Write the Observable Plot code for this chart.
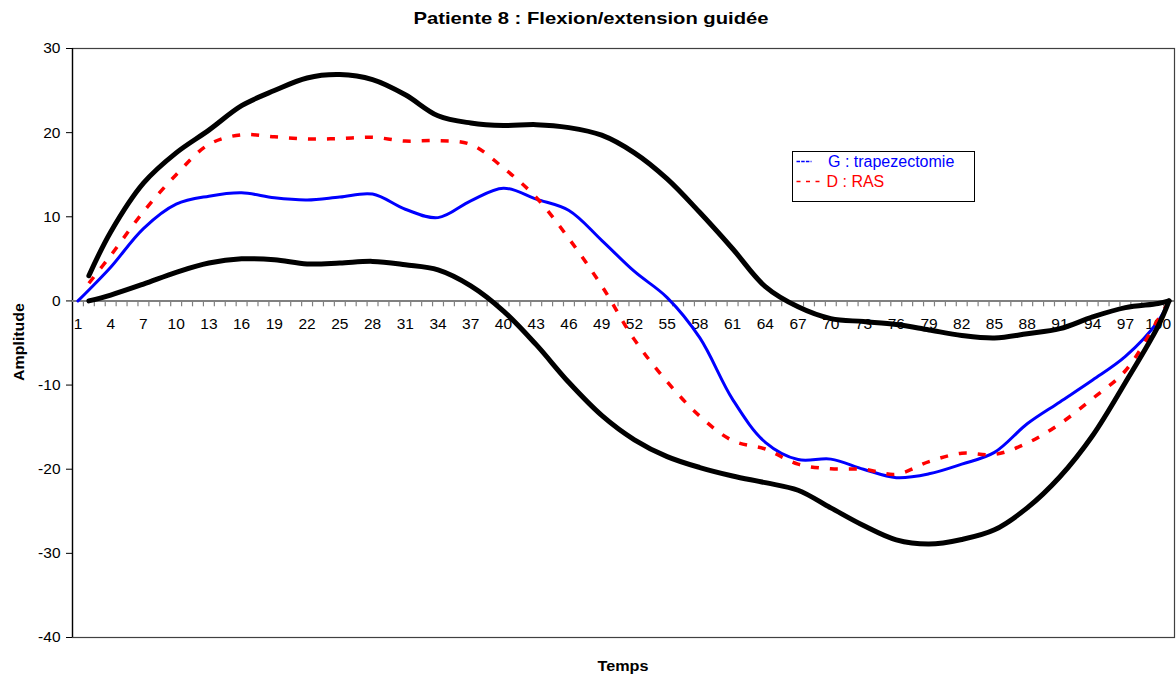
<!DOCTYPE html>
<html><head><meta charset="utf-8">
<script src="https://cdn.jsdelivr.net/npm/d3@7"></script>
<script src="https://cdn.jsdelivr.net/npm/@observablehq/plot@0.6"></script>
<style>
body{margin:0;background:#fff;font-family:"Liberation Sans",Arial,sans-serif;}
#wrap{position:relative;width:1176px;height:680px;overflow:hidden;}
#wrap > svg{position:absolute;left:0;top:0;}
</style></head><body><div id="wrap"></div>
<script>
// Temps (category index) sampled along the curves
const temps = [1,2,4,7,10,13,16,19,22,25,28,31,34,37,40,43,46,49,52,55,58,61,64,67,70,73,76,79,82,85,88,91,94,97,100,101];
// G : trapezectomie (blue)
const gTrap = [0,1.3,4.0,8.6,11.5,12.45,12.85,12.25,12.0,12.35,12.7,10.9,9.9,11.9,13.4,12.1,10.75,7.2,3.5,0.4,-4.4,-11.7,-16.8,-18.85,-18.8,-20.0,-21.0,-20.55,-19.4,-18.0,-14.6,-12.0,-9.4,-6.6,-2.4,0];
// D : RAS (red dashed)
const dRas = [null,2.1,5.4,10.6,15.0,18.6,19.75,19.5,19.25,19.3,19.45,19.0,19.05,18.6,15.8,12.3,7.4,1.8,-4.6,-9.6,-13.7,-16.6,-17.6,-19.4,-19.95,-20.0,-20.6,-19.1,-18.1,-18.25,-16.9,-14.6,-11.6,-8.3,-2.2,0];
// upper reference band (black)
const borneSup = [null,3.0,8.2,14.0,17.6,20.3,23.2,25.0,26.5,26.9,26.3,24.5,22.0,21.15,20.85,20.95,20.6,19.7,17.6,14.5,10.5,6.2,1.7,-0.7,-2.1,-2.45,-2.8,-3.45,-4.1,-4.4,-3.9,-3.3,-1.9,-0.8,-0.3,0];
// lower reference band (black)
const borneInf = [null,0,0.7,2.0,3.4,4.5,5.0,4.9,4.4,4.5,4.7,4.3,3.7,1.8,-1.2,-5.2,-9.7,-13.6,-16.5,-18.5,-19.8,-20.8,-21.6,-22.5,-24.6,-26.7,-28.4,-28.9,-28.35,-27.2,-24.6,-20.9,-16.0,-9.7,-3.0,0];

const yTicks = [-40,-30,-20,-10,0,10,20,30];
const nCats = 101;
const xTickLabels = d3.range(1, nCats, 3);
const catBounds = d3.range(1, nCats).map(c => c + 0.5);
const xDomain = [0.5, nCats + 0.5];

const title = "Patiente 8 : Flexion/extension guidée";
const xLabel = "Temps";
const yLabel = "Amplitude";
const legendItems = [
  {label: "G : trapezectomie", color: "#0000FF", dash: "3.5,1.2"},
  {label: "D : RAS", color: "#FF0000", dash: "4,5.5"}
];

function rows(values) {
  return temps.map((t, i) => ({t, v: values[i]})).filter(d => d.v != null);
}

const chart = Plot.plot({
  width: 1176,
  height: 680,
  marginTop: 48,
  marginBottom: 43,
  marginLeft: 72,
  marginRight: 2,
  style: {fontFamily: '"Liberation Sans", Arial, sans-serif', fontSize: "15px", color: "black", background: "white"},
  x: {type: "linear", domain: xDomain, axis: null},
  y: {domain: [yTicks[0], yTicks[yTicks.length - 1]], axis: null},
  marks: [
    Plot.frame({stroke: "#404040", strokeWidth: 1.2}),
    Plot.ruleX([xDomain[0]], {stroke: "black", strokeWidth: 1.3}),
    Plot.axisY({ticks: yTicks, tickSize: 6, tickPadding: 6, label: null, fontSize: 15.5, tickFormat: d => String(d)}),
    Plot.ruleY([0], {stroke: "#808080", strokeWidth: 2}),
    Plot.ruleX(catBounds, {y1: 0, y2: -0.7, stroke: "#808080", strokeWidth: 1.2}),
    Plot.text(xTickLabels, {x: d => d, y: 0, dy: 23, text: d => String(d), fontSize: 15.5, fill: "black"}),
    Plot.line(rows(gTrap), {x: "t", y: "v", curve: "catmull-rom", stroke: "#0000FF", strokeWidth: 3}),
    Plot.line(rows(dRas), {x: "t", y: "v", curve: "catmull-rom", stroke: "#FF0000", strokeWidth: 3.5, strokeDasharray: "8,11", strokeLinecap: "butt"}),
    Plot.line(rows(borneSup), {x: "t", y: "v", curve: "catmull-rom", stroke: "black", strokeWidth: 5, strokeLinecap: "round"}),
    Plot.line(rows(borneInf), {x: "t", y: "v", curve: "catmull-rom", stroke: "black", strokeWidth: 5, strokeLinecap: "round"})
  ]
});

const wrap = document.getElementById("wrap");
wrap.appendChild(chart);

// overlay: title, axis titles, legend
const ov = d3.create("svg").attr("width", 1176).attr("height", 680)
  .style("font-family", '"Liberation Sans", Arial, sans-serif').style("pointer-events", "none");
ov.append("text").attr("x", 591).attr("y", 24).attr("text-anchor", "middle")
  .attr("font-size", 17).attr("font-weight", "bold").attr("textLength", 355).attr("lengthAdjust", "spacingAndGlyphs").text(title);
ov.append("text").attr("x", 623).attr("y", 671).attr("text-anchor", "middle")
  .attr("font-size", 15).attr("font-weight", "bold").attr("textLength", 51).attr("lengthAdjust", "spacingAndGlyphs").text(xLabel);
ov.append("text").attr("transform", "translate(24,342) rotate(-90)").attr("text-anchor", "middle")
  .attr("font-size", 15).attr("font-weight", "bold").attr("textLength", 78).attr("lengthAdjust", "spacingAndGlyphs").text(yLabel);

const lg = ov.append("g").attr("transform", "translate(792.5,151.5)");
lg.append("rect").attr("width", 182).attr("height", 50).attr("fill", "white").attr("stroke", "black").attr("stroke-width", 1);
legendItems.forEach((it, i) => {
  const cy = 10 + i * 20;
  lg.append("line").attr("x1", 4).attr("x2", i === 0 ? 19 : 30).attr("y1", cy).attr("y2", cy)
    .attr("stroke", it.color).attr("stroke-width", 1.5).attr("stroke-dasharray", it.dash);
  lg.append("text").attr("x", i === 0 ? 35.5 : 34).attr("y", cy + 5.5).attr("font-size", 16).attr("fill", it.color).text(it.label);
});
wrap.appendChild(ov.node());
</script>
</body></html>
